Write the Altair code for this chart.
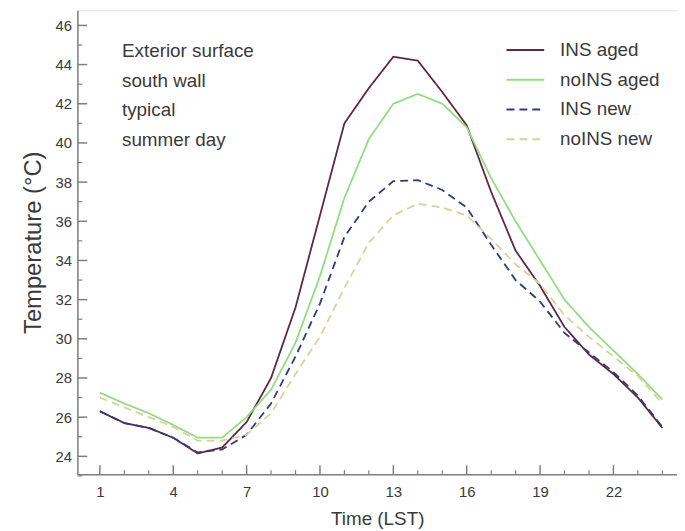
import altair as alt
import pandas as pd

hours = list(range(1, 25))
series_names = ["INS aged", "noINS aged", "INS new", "noINS new"]
ins_aged = [26.3, 25.7, 25.45, 24.95, 24.15, 24.45, 25.75, 28.0, 31.6, 36.3, 41.0, 42.8,
            44.4, 44.2, 42.6, 40.9, 37.5, 34.5, 32.7, 30.6, 29.2, 28.2, 27.0, 25.45]
no_ins_aged = [27.25, 26.7, 26.2, 25.6, 24.95, 24.95, 26.0, 27.4, 29.8, 33.2, 37.2, 40.2,
               42.0, 42.5, 42.0, 40.8, 38.2, 36.0, 34.0, 32.0, 30.6, 29.4, 28.2, 26.9]
ins_new = [26.3, 25.7, 25.45, 24.95, 24.2, 24.35, 25.1, 26.7, 29.1, 31.8, 35.2, 37.0,
           38.05, 38.1, 37.6, 36.7, 34.8, 33.0, 31.9, 30.3, 29.3, 28.3, 27.1, 25.5]
no_ins_new = [27.0, 26.5, 26.0, 25.5, 24.8, 24.8, 25.1, 26.2, 28.2, 30.1, 32.6, 34.9,
              36.3, 36.9, 36.7, 36.3, 35.1, 33.8, 32.8, 31.2, 30.1, 29.1, 28.1, 26.7]

x_major = [1, 4, 7, 10, 13, 16, 19, 22]
x_minor = [h for h in hours if h not in x_major]
y_major = list(range(24, 47, 2))
y_minor = list(range(23, 47, 2))
note_lines = ["Exterior surface", "south wall", "typical", "summer day"]

colors = ["#5e2744", "#93dc80", "#2e3c7c", "#d8d29a"]
dashes = [[1, 0], [1, 0], [8, 5], [8, 5]]

rows = []
for name, vals in zip(series_names, [ins_aged, no_ins_aged, ins_new, no_ins_new]):
    for h, v in zip(hours, vals):
        rows.append({"hour": h, "temp": v, "series": name})
df = pd.DataFrame(rows)

W, H = 605, 468
FONT = "Liberation Sans"
TXT = "#3a3a3a"
AX = "#808080"

xscale = alt.Scale(domain=[0.08, 24.6], nice=False, zero=False)
yscale = alt.Scale(domain=[23.09, 46.77], nice=False, zero=False)

lines = alt.Chart(df).mark_line(strokeWidth=1.8).encode(
    x=alt.X("hour:Q", scale=xscale,
            axis=alt.Axis(values=x_major, ticks=False, grid=False, title="Time (LST)",
                          labelFontSize=15, titleFontSize=19, labelPadding=11,
                          titlePadding=10, titleFontWeight="normal",
                          domainColor=AX, domainWidth=1.5, labelColor=TXT, titleColor=TXT,
                          labelFont=FONT, titleFont=FONT)),
    y=alt.Y("temp:Q", scale=yscale,
            axis=alt.Axis(values=y_major, ticks=False, grid=False, title="Temperature (°C)",
                          labelFontSize=15, titleFontSize=24, labelPadding=6,
                          titlePadding=10, titleFontWeight="normal",
                          domainColor=AX, domainWidth=1.5, labelColor=TXT, titleColor=TXT,
                          labelFont=FONT, titleFont=FONT)),
    color=alt.Color("series:N", scale=alt.Scale(domain=series_names, range=colors),
                    legend=alt.Legend(title=None, orient="none", legendX=432, legendY=25,
                                      symbolType="stroke", symbolSize=1444,
                                      symbolStrokeWidth=2, clipHeight=30, rowPadding=0,
                                      labelOffset=15, labelFontSize=19, labelFont=FONT,
                                      labelColor=TXT, padding=0)),
    strokeDash=alt.StrokeDash("series:N", scale=alt.Scale(domain=series_names, range=dashes),
                              legend=None),
    order="hour:Q",
)

df_xmaj = pd.DataFrame({"v": x_major})
df_xmin = pd.DataFrame({"v": x_minor})
df_ymaj = pd.DataFrame({"v": y_major})
df_ymin = pd.DataFrame({"v": y_minor})

xt_major = alt.Chart(df_xmaj).mark_rule(color=AX, strokeWidth=1.5).encode(
    x=alt.X("v:Q", scale=xscale), y=alt.value(H), y2=alt.value(H - 9))
xt_minor = alt.Chart(df_xmin).mark_rule(color=AX, strokeWidth=1.2).encode(
    x=alt.X("v:Q", scale=xscale), y=alt.value(H), y2=alt.value(H - 4))
yt_major = alt.Chart(df_ymaj).mark_rule(color=AX, strokeWidth=1.5).encode(
    y=alt.Y("v:Q", scale=yscale), x=alt.value(0), x2=alt.value(10))
yt_minor = alt.Chart(df_ymin).mark_rule(color=AX, strokeWidth=1.2).encode(
    y=alt.Y("v:Q", scale=yscale), x=alt.value(0), x2=alt.value(5))

note = alt.Chart(pd.DataFrame({"k": [0]})).mark_text(
    text=note_lines, align="left", baseline="middle", lineHeight=30,
    fontSize=19, font=FONT, color=TXT
).encode(x=alt.value(45), y=alt.value(41))

chart = alt.layer(xt_major, xt_minor, yt_major, yt_minor, lines, note).properties(
    width=W, height=H,
    autosize=alt.AutoSizeParams(type="none"),
    padding={"left": 70, "top": 0, "right": 0, "bottom": 55},
).configure_view(stroke=AX, strokeWidth=1.5).configure(background="white")

chart.save("out.html", embed_options={"renderer": "svg", "actions": False})
